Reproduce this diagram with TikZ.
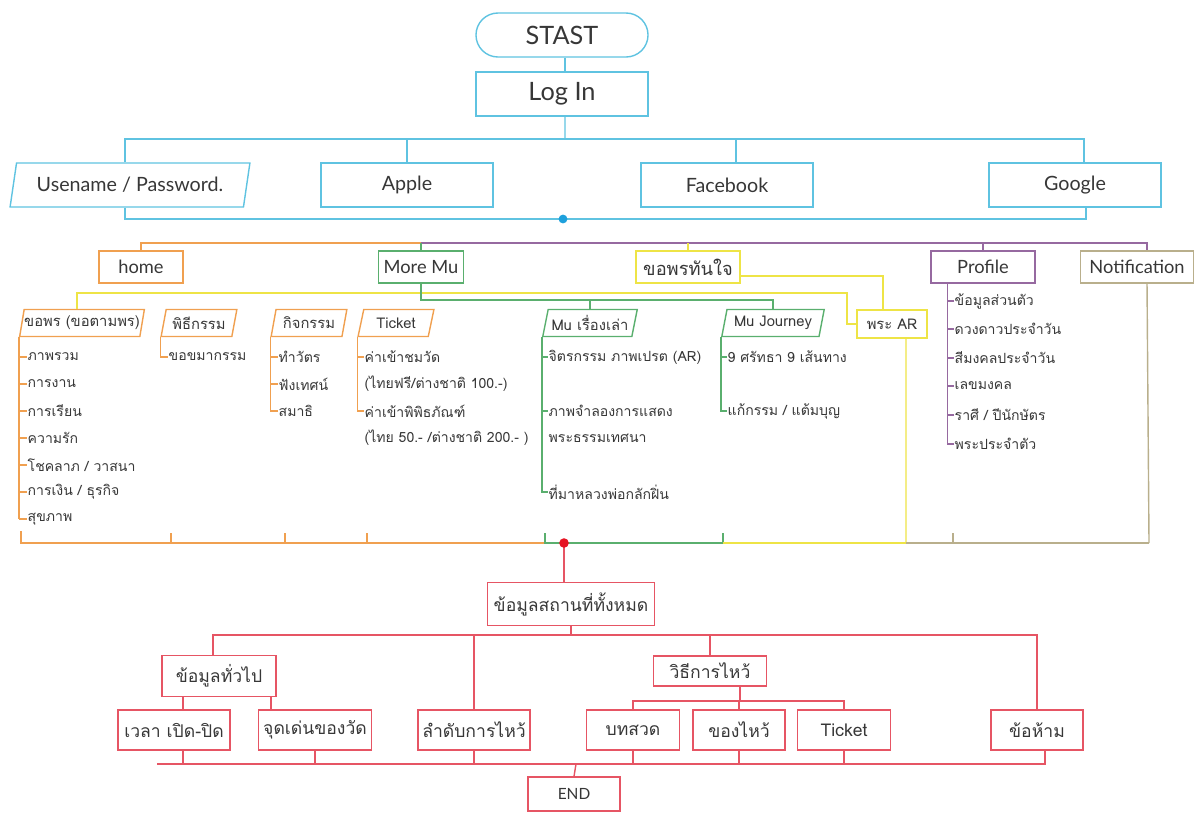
\documentclass[tikz,border=0pt]{standalone}
\usepackage{fontspec}
\setmainfont{Lato}
\newfontfamily\thai[Script=Thai]{Loma}
\usetikzlibrary{shapes.geometric}
\definecolor{cyanline}{RGB}{95,195,225}
\definecolor{cyandot}{RGB}{30,160,220}
\definecolor{orangeline}{RGB}{240,160,80}
\definecolor{greenline}{RGB}{90,175,110}
\definecolor{yellowline}{RGB}{238,228,70}
\definecolor{purpleline}{RGB}{150,105,160}
\definecolor{khakiline}{RGB}{185,175,140}
\definecolor{redline}{RGB}{230,85,100}
\definecolor{reddot}{RGB}{230,20,35}
\definecolor{txt}{RGB}{55,55,55}

\begin{document}
\begin{tikzpicture}[x=0.025cm, y=-0.025cm, line width=1pt,
  box/.style={draw, line width=1pt, text=txt, inner sep=0pt},
  skybox/.style={box, draw=cyanline, minimum width=4.3cm, minimum height=1.1cm, font=\fontsize{14}{16}\selectfont},
  menubox/.style={box, minimum height=0.8cm, font=\fontsize{13}{15}\selectfont},
  subpara/.style={box, trapezium, trapezium left angle=72, trapezium right angle=108,
    trapezium stretches=true, minimum height=0.675cm, font=\thai\fontsize{10.5}{12}\selectfont},
  redbox/.style={box, draw=redline, minimum height=1cm, font=\thai\fontsize{12.5}{14}\selectfont},
  item/.style={anchor=west, inner sep=0pt, text=txt, font=\thai\fontsize{10}{12}\selectfont}]
  \useasboundingbox (0,0) rectangle (1200,812);

  % Log in
  \node[skybox, rounded corners=0.55cm, font=\fontsize{18}{20}\selectfont] (start) at (562,35) {STAST};
  \node[skybox, font=\fontsize{18}{20}\selectfont] (login) at (562,94) {Log In};
  \node[skybox, trapezium, trapezium left angle=71, trapezium right angle=109,
    trapezium stretches=true, minimum width=6cm] (user) at (130,185) {Usename / Password.};
  \node[skybox] (apple) at (407,185) {Apple};
  \node[skybox] (fb) at (727,185) {Facebook};
  \node[skybox] (google) at (1075,185) {Google};
  \coordinate (tbus) at (565,139);
  \coordinate (cdot) at (563,219);

  \draw[cyanline] ([xshift=0.075cm]start.south) -- ([xshift=0.075cm]login.north);
  \draw[cyanline] ([xshift=0.075cm]login.south) -- (tbus);
  \draw[cyanline] ([xshift=-0.125cm]user.north) |- (tbus) -| ([xshift=0.225cm]google.north);
  \draw[cyanline] (apple.north) -- (apple.north |- tbus);
  \draw[cyanline] ([xshift=0.225cm]fb.north) -- ([xshift=0.225cm]fb.north |- tbus);
  \draw[cyanline] ([xshift=-0.125cm]user.south) |- (cdot) -| ([xshift=0.275cm]google.south);
  \fill[cyandot] (cdot) circle (0.11cm);

  % Menu
  \node[menubox, draw=orangeline, minimum width=2.1cm] (home) at (141,267) {home};
  \node[menubox, draw=greenline, minimum width=2.125cm] (moremu) at (421,267) {More Mu};
  \node[menubox, draw=yellowline, minimum width=2.6cm, font=\thai\fontsize{13}{15}\selectfont] (wish) at (688,267) {ขอพรทันใจ};
  \node[menubox, draw=purpleline, minimum width=2.6cm] (profile) at (983,267) {Profile};
  \node[menubox, draw=khakiline, minimum width=2.825cm] (notif) at (1137,267) {Notification};
  \coordinate (mbus) at (421,243);

  \draw[orangeline] (home.north) |- (mbus);
  \draw[purpleline] (mbus) -| ([xshift=0.25cm]notif.north);
  \draw[greenline] (moremu.north) -- (mbus);
  \draw[yellowline] (wish.north) -- (wish.north |- mbus);
  \draw[purpleline] (profile.north) -- (profile.north |- mbus);

  % Sub menu
  \node[subpara, draw=orangeline, minimum width=3.075cm] (p1) at (82,323) {ขอพร (ขอตามพร)};
  \node[subpara, draw=orangeline, minimum width=1.9cm] (p2) at (199,323) {พิธีกรรม};
  \node[subpara, draw=orangeline, minimum width=1.9cm] (p3) at (309,323) {กิจกรรม};
  \node[subpara, draw=orangeline, minimum width=1.9cm] (p4) at (396,323) {Ticket};
  \node[subpara, draw=greenline, minimum width=2.375cm] (p5) at (590,323) {Mu เรื่องเล่า};
  \node[subpara, draw=greenline, minimum width=2.575cm] (p6) at (773,323) {Mu Journey};
  \node[box, draw=yellowline, minimum width=1.75cm, minimum height=0.7cm, font=\thai\fontsize{10.5}{12}\selectfont] (ar) at (892,324) {พระ AR};
  \coordinate (gbus) at (421,300);
  \coordinate (ybend) at (847,293);

  \draw[yellowline] ([yshift=-0.225cm]wish.east) -| ([xshift=-0.225cm]ar.north);
  \draw[yellowline] ([xshift=-0.125cm]p1.north) |- (ybend) |- (ar.west);
  \draw[greenline] (moremu.south) -- (gbus) -| (p6.north);
  \draw[greenline] (p5.north) -- (p5.north |- gbus);

  % lists
  \node[item] (k1) at (27,357) {ภาพรวม};
  \node[item] (k2) at (27,384) {การงาน};
  \node[item] (k3) at (27,411) {การเรียน};
  \node[item] (k4) at (27,438) {ความรัก};
  \node[item] (k5) at (27,465) {โชคลาภ / วาสนา};
  \node[item] (k6) at (27,492) {การเงิน / ธุรกิจ};
  \node[item] (k7) at (27,519) {สุขภาพ};
  \draw[orangeline] (p1.bottom left corner) -- (p1.bottom left corner |- k7.west);
  \draw[orangeline] (k1.west -| p1.bottom left corner) -- (k1.west);
  \draw[orangeline] (k2.west -| p1.bottom left corner) -- (k2.west);
  \draw[orangeline] (k3.west -| p1.bottom left corner) -- (k3.west);
  \draw[orangeline] (k4.west -| p1.bottom left corner) -- (k4.west);
  \draw[orangeline] (k5.west -| p1.bottom left corner) -- (k5.west);
  \draw[orangeline] (k6.west -| p1.bottom left corner) -- (k6.west);
  \draw[orangeline] (k7.west -| p1.bottom left corner) -- (k7.west);

  \node[item] (r1) at (168,357) {ขอขมากรรม};
  \draw[orangeline] (p2.bottom left corner) |- (r1.west);

  \node[item] (a1) at (278,357) {ทำวัตร};
  \node[item] (a2) at (278,384) {ฟังเทศน์};
  \node[item] (a3) at (278,411) {สมาธิ};
  \draw[orangeline] (p3.bottom left corner) |- (a3.west);
  \draw[orangeline] (a1.west -| p3.bottom left corner) -- (a1.west);
  \draw[orangeline] (a2.west -| p3.bottom left corner) -- (a2.west);

  \node[item] (t1) at (364,357) {ค่าเข้าชมวัด};
  \node[item] (t2) at (364,384) {(ไทยฟรี/ต่างชาติ 100.-)};
  \node[item] (t3) at (364,411) {ค่าเข้าพิพิธภัณฑ์};
  \node[item] (t4) at (364,438) {(ไทย 50.- /ต่างชาติ 200.- )};
  \draw[orangeline] (p4.bottom left corner) |- (t3.west);
  \draw[orangeline] (t1.west -| p4.bottom left corner) -- (t1.west);

  \node[item] (s1) at (548,357) {จิตรกรรม ภาพเปรต (AR)};
  \node[item] (s2) at (548,411) {ภาพจำลองการแสดง};
  \node[item] (s3) at (548,438) {พระธรรมเทศนา};
  \node[item] (s4) at (548,492) {ที่มาหลวงพ่อกลักฝิ่น};
  \draw[greenline] (p5.bottom left corner) |- (s4.west);
  \draw[greenline] (s1.west -| p5.bottom left corner) -- (s1.west);
  \draw[greenline] (s2.west -| p5.bottom left corner) -- (s2.west);

  \node[item] (j1) at (727,357) {9 ศรัทธา 9 เส้นทาง};
  \node[item] (j2) at (727,411) {แก้กรรม / แต้มบุญ};
  \draw[greenline] (p6.bottom left corner) |- (j2.west);
  \draw[greenline] (j1.west -| p6.bottom left corner) -- (j1.west);

  \node[item] (f1) at (954,301) {ข้อมูลส่วนตัว};
  \node[item] (f2) at (954,329) {ดวงดาวประจำวัน};
  \node[item] (f3) at (954,358) {สีมงคลประจำวัน};
  \node[item] (f4) at (954,386) {เลขมงคล};
  \node[item] (f5) at (954,415) {ราศี / ปีนักษัตร};
  \node[item] (f6) at (954,444) {พระประจำตัว};
  \draw[purpleline] ([xshift=0.425cm]profile.south west) |- (f6.west);
  \draw[purpleline] (f1.west) ++(-6,0) -- (f1.west);
  \draw[purpleline] (f2.west) ++(-6,0) -- (f2.west);
  \draw[purpleline] (f3.west) ++(-6,0) -- (f3.west);
  \draw[purpleline] (f4.west) ++(-6,0) -- (f4.west);
  \draw[purpleline] (f5.west) ++(-6,0) -- (f5.west);

  % bottom bar
  \coordinate (barO) at (21,543);
  \coordinate (barG) at (545,543);
  \coordinate (barY) at (723,543);
  \coordinate (barA) at (906,543);
  \coordinate (barN) at (1149,543);
  \coordinate (rdot) at (564,543);
  \draw[yellowline] ([xshift=0.35cm]ar.south) -- (barA);
  \draw[khakiline] ([xshift=0.25cm]notif.south) -- (barN);
  \draw[orangeline] (barO) ++(0,-12) -- (barO) -- (barG);
  \draw[orangeline] (barO) ++(150,0) -- ++(0,-10);
  \draw[orangeline] (barO) ++(264,0) -- ++(0,-10);
  \draw[orangeline] (barO) ++(346,0) -- ++(0,-10);
  \draw[greenline] (barG) ++(0,-10) -- (barG) -- (barY) -- ++(0,-10);
  \draw[yellowline] (barY) -- (barA);
  \draw[khakiline] (barA) -- (barN);
  \draw[khakiline] (barA) ++(47,0) -- ++(0,-10);

  % places
  \node[redbox, minimum width=4.175cm, minimum height=1.075cm] (allinfo) at (571,604) {ข้อมูลสถานที่ทั้งหมด};
  \node[redbox, minimum width=2.85cm, minimum height=1.025cm] (general) at (219,676) {ข้อมูลทั่วไป};
  \node[redbox, minimum width=2.825cm, minimum height=0.75cm] (howto) at (710,671) {วิธีการไหว้};
  \node[redbox, minimum width=2.8cm] (time) at (174,730) {เวลา เปิด-ปิด};
  \node[redbox, minimum width=2.825cm] (point) at (315,730) {จุดเด่นของวัด};
  \node[redbox, minimum width=2.8cm] (order) at (474,730) {ลำดับการไหว้};
  \node[redbox, minimum width=2.325cm] (chant) at (633,730) {บทสวด};
  \node[redbox, minimum width=2.3cm] (offer) at (739,730) {ของไหว้};
  \node[redbox, minimum width=2.325cm] (ticket) at (844,730) {Ticket};
  \node[redbox, minimum width=2.3cm] (forbid) at (1037,730) {ข้อห้าม};
  \node[redbox, minimum width=2.3cm, minimum height=0.85cm, font=\fontsize{11}{13}\selectfont] (end) at (574,794) {END};
  \coordinate (rbus) at (571,635);
  \coordinate (hbus) at (740,701);
  \coordinate (ebus) at (576,764);
  \coordinate (ebusL) at (157,764);

  \draw[redline] (rdot) -- (rdot |- allinfo.north);
  \fill[reddot] (rdot) circle (0.12cm);
  \draw[redline] (allinfo.south) -- (rbus);
  \draw[redline] ([xshift=-0.15cm]general.north) |- (rbus) -| (forbid.north);
  \draw[redline] (order.north) -- (order.north |- rbus);
  \draw[redline] (howto.north) -- (howto.north |- rbus);
  \draw[redline] ([xshift=0.225cm]time.north) -- ([xshift=0.225cm]time.north |- general.south);
  \draw[redline] ([xshift=-1.1cm]point.north) -- ([xshift=-1.1cm]point.north |- general.south);
  \draw[redline] (hbus |- howto.south) -- (hbus);
  \draw[redline] (chant.north) |- (hbus) -| (ticket.north);
  \draw[redline] (offer.north) -- (offer.north |- hbus);
  \draw[redline] (ebusL) -- (ebus) -| ([xshift=0.2cm]forbid.south);
  \draw[redline] (ebus) -- (end.north);
  \draw[redline] ([xshift=0.225cm]time.south) -- ([xshift=0.225cm]time.south |- ebus);
  \draw[redline] (point.south) -- (point.south |- ebus);
  \draw[redline] (order.south) -- (order.south |- ebus);
  \draw[redline] (chant.south) -- (chant.south |- ebus);
  \draw[redline] (offer.south) -- (offer.south |- ebus);
  \draw[redline] (ticket.south) -- (ticket.south |- ebus);
\end{tikzpicture}
\end{document}
